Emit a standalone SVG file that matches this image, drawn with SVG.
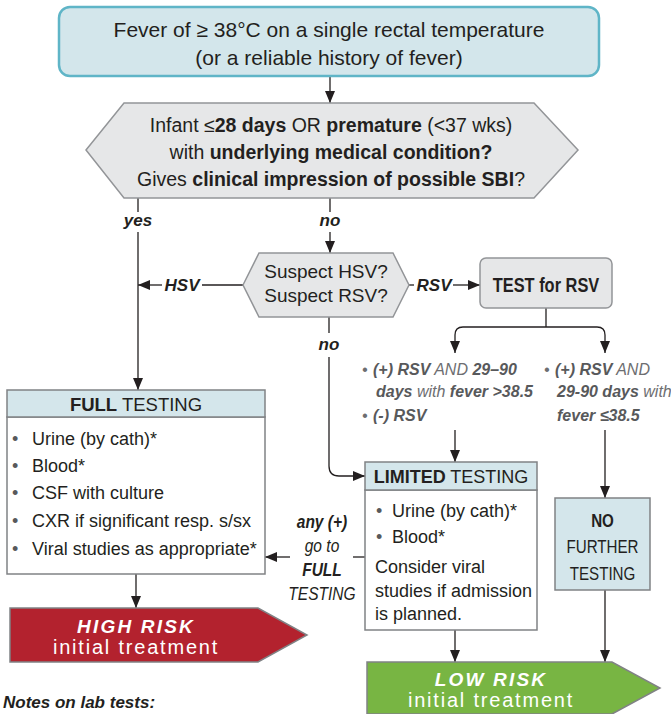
<svg xmlns="http://www.w3.org/2000/svg" width="671" height="714" viewBox="0 0 671 714">
<defs>
<marker id="ah" markerUnits="userSpaceOnUse" markerWidth="12" markerHeight="10" refX="12" refY="5" orient="auto"><path d="M0,0 L12,5 L0,10 Z" fill="#231f20"/></marker>
</defs>
<style>
text{font-family:"Liberation Sans",Arial,sans-serif;fill:#231f20}
.c{text-anchor:middle}
.b{font-weight:bold}
.i{font-style:italic}
.conn path{fill:none;stroke:#231f20;stroke-width:1.3}
.arr{marker-end:url(#ah)}
.gray{fill:#e6e7e8;stroke:#939598;stroke-width:1.5}
.blue{fill:#d4e6eb;stroke:#808285;stroke-width:1.5}
.white{fill:#fff;stroke:#808285;stroke-width:1.5}
.g1{fill:#6d6e71}
.g2{fill:#58595b;font-weight:bold}
.bul{fill:#58595b}
.w{fill:#fff}
.lbl{font-size:17px;font-weight:bold;font-style:italic}
</style>

<g id="connectors" class="conn">
<path class="arr" d="M330,77 V103"/>
<path d="M138,198 V212"/>
<path class="arr" d="M138,232 V390"/>
<path d="M330,198 V212"/>
<path class="arr" d="M330,232 V253"/>
<path d="M243,285 H202"/>
<path class="arr" d="M162,285 H138"/>
<path d="M409,285 H414"/>
<path class="arr" d="M453,285 H480"/>
<path d="M546,308 V327"/>
<path class="arr" d="M546,327 H463 Q455,327 455,335 V353"/>
<path class="arr" d="M546,327 H597 Q605,327 605,335 V353"/>
<path class="arr" d="M455,430 V462"/>
<path class="arr" d="M605,430 V498"/>
<path d="M329,317 V333"/>
<path class="arr" d="M329,357 V466 Q329,476 339,476 H365"/>
<path d="M365,557 H353"/>
<path class="arr" d="M290,557 H265"/>
<path class="arr" d="M136,574 V608"/>
<path class="arr" d="M455,630 V662"/>
<path class="arr" d="M605,590 V662"/>
</g>

<g id="labels">
<text class="lbl c" x="138" y="226">yes</text>
<text class="lbl c" x="330" y="226">no</text>
<text class="lbl c" x="329" y="350">no</text>
<text class="lbl c" x="182" y="291">HSV</text>
<text class="lbl c" x="434" y="291">RSV</text>
</g>

<g id="fever">
<rect x="59" y="7" width="540" height="69" rx="11" fill="#d3e6eb" stroke="#5fb5c7" stroke-width="2.5"/>
<text class="c" x="329" y="37" font-size="21">Fever of ≥ 38°C on a single rectal temperature</text>
<text class="c" x="329" y="65" font-size="21">(or a reliable history of fever)</text>
</g>

<g id="infant">
<polygon class="gray" points="86,150 124,103 534,103 578,150 534,198 124,198"/>
<text class="c" x="331" y="132" font-size="19.5">Infant ≤<tspan class="b">28 days</tspan> OR <tspan class="b">premature</tspan> (&lt;37 wks)</text>
<text class="c" x="331" y="159" font-size="19.5">with <tspan class="b">underlying medical condition?</tspan></text>
<text class="c" x="331" y="186" font-size="19.5">Gives <tspan class="b">clinical impression of possible SBI</tspan>?</text>
</g>

<g id="suspect">
<polygon class="gray" points="243,285 259,253 393,253 409,285 393,317 259,317"/>
<text class="c" x="326" y="278" font-size="19">Suspect HSV?</text>
<text class="c" x="326" y="302" font-size="19">Suspect RSV?</text>
</g>

<g id="test-rsv">
<rect class="gray" x="480" y="258" width="132" height="50" rx="6"/>
<g transform="translate(546,0) scale(0.82,1)">
<text class="c b" x="0" y="292" font-size="20">TEST for RSV</text>
</g>
</g>

<g id="rsv-results" font-size="16" font-style="italic">
<text class="g1" x="362" y="375">•</text>
<text class="g1" x="373" y="375"><tspan class="g2">(+) RSV</tspan> AND <tspan class="g2">29–90</tspan></text>
<text class="g1" x="376" y="397"><tspan class="g2">days</tspan> with <tspan class="g2">fever &gt;38.5</tspan></text>
<text class="g1" x="362" y="421">•</text>
<text class="g1" x="373" y="421"><tspan class="g2">(-) RSV</tspan></text>
<text class="g1" x="544" y="375">•</text>
<text class="g1" x="555" y="375"><tspan class="g2">(+) RSV</tspan> AND</text>
<text class="g1" x="557" y="397"><tspan class="g2">29-90 days</tspan> with</text>
<text class="g1" x="557" y="421"><tspan class="g2">fever ≤38.5</tspan></text>
</g>

<g id="full-testing">
<rect class="white" x="7" y="417" width="258" height="157"/>
<rect class="blue" x="7" y="390" width="258" height="27"/>
<text class="c" x="136" y="411" font-size="18.5"><tspan class="b">FULL</tspan> TESTING</text>
<g font-size="18">
<text class="bul" x="12" y="445">•</text><text x="32" y="445">Urine (by cath)*</text>
<text class="bul" x="12" y="472">•</text><text x="32" y="472">Blood*</text>
<text class="bul" x="12" y="499">•</text><text x="32" y="499">CSF with culture</text>
<text class="bul" x="12" y="527">•</text><text x="32" y="527">CXR if significant resp. s/sx</text>
<text class="bul" x="12" y="555">•</text><text x="32" y="555">Viral studies as appropriate*</text>
</g>
</g>

<g id="limited-testing">
<rect class="white" x="365" y="490" width="172" height="140"/>
<rect class="blue" x="365" y="462" width="172" height="28"/>
<text class="c" x="451" y="483" font-size="18"><tspan class="b">LIMITED</tspan> TESTING</text>
<g font-size="18">
<text class="bul" x="376" y="517">•</text><text x="392" y="517">Urine (by cath)*</text>
<text class="bul" x="376" y="543">•</text><text x="392" y="543">Blood*</text>
<text x="375" y="573">Consider viral</text>
<text x="375" y="597">studies if admission</text>
<text x="375" y="620">is planned.</text>
</g>
</g>

<g id="go-full" font-size="18.5" font-style="italic" transform="translate(322,0) scale(0.84,1)">
<text class="c b" x="0" y="528">any (+)</text>
<text class="c" x="0" y="552">go to</text>
<text class="c b" x="0" y="576">FULL</text>
<text class="c" x="0" y="600">TESTING</text>
</g>

<g id="no-further">
<rect class="blue" x="555" y="498" width="95" height="92"/>
<g transform="translate(602.5,0) scale(0.82,1)" font-size="18.5">
<text class="c b" x="0" y="527">NO</text>
<text class="c" x="0" y="553">FURTHER</text>
<text class="c" x="0" y="580">TESTING</text>
</g>
</g>

<g id="high-risk">
<path d="M10,608 H258 L307,635 L258,662 H10 Z" fill="#b3222e" stroke="#808285" stroke-width="1.5"/>
<text class="c b i w" x="136" y="633" font-size="19" letter-spacing="2.2">HIGH RISK</text>
<text class="c w" x="136" y="654" font-size="20" letter-spacing="1.8">initial treatment</text>
</g>

<g id="low-risk">
<path d="M367,662 H612 L660,688 L612,714 H367 Z" fill="#78b543" stroke="#808285" stroke-width="1.5"/>
<text class="c b i w" x="491" y="686" font-size="19" letter-spacing="2.2">LOW RISK</text>
<text class="c w" x="491" y="707" font-size="20" letter-spacing="1.8">initial treatment</text>
</g>

<text class="b i" x="3" y="708" font-size="17">Notes on lab tests:</text>
</svg>
